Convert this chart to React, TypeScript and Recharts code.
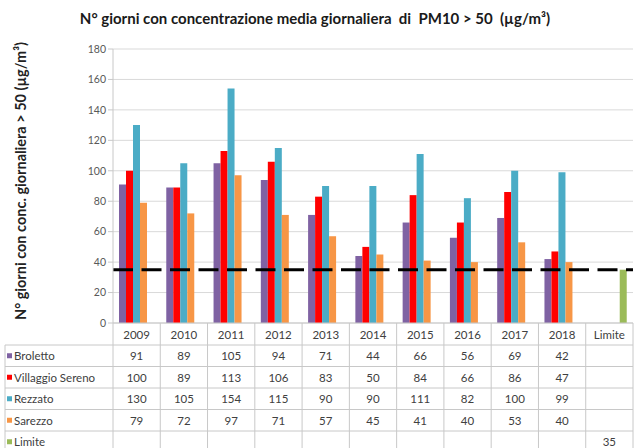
import { Bar, BarChart, CartesianGrid, ReferenceLine, XAxis, YAxis } from "recharts";

const years = ["2009", "2010", "2011", "2012", "2013", "2014", "2015", "2016", "2017", "2018", "Limite"];
const broletto = [91, 89, 105, 94, 71, 44, 66, 56, 69, 42, null];
const villaggioSereno = [100, 89, 113, 106, 83, 50, 84, 66, 86, 47, null];
const rezzato = [130, 105, 154, 115, 90, 90, 111, 82, 100, 99, null];
const sarezzo = [79, 72, 97, 71, 57, 45, 41, 40, 53, 40, null];
const limite = [null, null, null, null, null, null, null, null, null, null, 35];
const yTicks = [0, 20, 40, 60, 80, 100, 120, 140, 160, 180];
const limitValue = 35;

const series = [
  { key: "broletto", name: "Broletto", values: broletto, color: "#7f62a3" },
  { key: "villaggio", name: "Villaggio Sereno", values: villaggioSereno, color: "#ff0000" },
  { key: "rezzato", name: "Rezzato", values: rezzato, color: "#4bacc6" },
  { key: "sarezzo", name: "Sarezzo", values: sarezzo, color: "#f79646" },
  { key: "limite", name: "Limite", values: limite, color: "#9bbb59" },
];

const data = years.map((year, i) => {
  const row: Record<string, string | number | null> = { year };
  series.forEach((s) => (row[s.key] = s.values[i]));
  return row;
});

const W = 636;
const H = 448;
const TOP = 49;
const BOTTOM = 323;
const LEFT = 113;
const RIGHT = 3;
const BW = (W - LEFT - RIGHT) / years.length;
const HEADER_BOTTOM = 345;
const ROW_H = 21.5;
const TABLE_LEFT = 5;
const FONT = "Lato, 'Open Sans', sans-serif";
const GRID = "#c8c8c8";
const TEXT = "#404040";

function TableColumn(props: any) {
  const { x, payload, index } = props;
  const i = index ?? years.indexOf(payload.value);
  const left = x - BW / 2;
  const right = x + BW / 2;
  const tableBottom = HEADER_BOTTOM + ROW_H * series.length;

  return (
    <g fontFamily={FONT} fontSize={11.5} fill={TEXT}>
      {i === 0 && (
        <g>
          {series.map((s, r) => (
            <line key={"h" + r} x1={TABLE_LEFT} x2={W - RIGHT} y1={HEADER_BOTTOM + r * ROW_H} y2={HEADER_BOTTOM + r * ROW_H} stroke={GRID} />
          ))}
          <line x1={TABLE_LEFT} x2={W - RIGHT} y1={tableBottom} y2={tableBottom} stroke={GRID} />
          <line x1={TABLE_LEFT} x2={TABLE_LEFT} y1={HEADER_BOTTOM} y2={tableBottom} stroke={GRID} />
          <line x1={left} x2={left} y1={BOTTOM} y2={tableBottom} stroke={GRID} />
          {series.map((s, r) => {
            const cy = HEADER_BOTTOM + r * ROW_H + ROW_H / 2;
            return (
              <g key={"l" + r}>
                <rect x={7} y={cy - 2.5} width={5} height={5} fill={s.color} />
                <text x={14} y={cy} dominantBaseline="central" fill={TEXT}>
                  {s.name}
                </text>
              </g>
            );
          })}
        </g>
      )}
      <line x1={right} x2={right} y1={BOTTOM} y2={tableBottom} stroke={GRID} />
      <text x={x} y={(BOTTOM + HEADER_BOTTOM) / 2} textAnchor="middle" dominantBaseline="central" fill={TEXT}>
        {payload.value}
      </text>
      {series.map((s, r) => {
        const v = s.values[i];
        if (v == null) return null;
        return (
          <text
            key={s.key}
            x={x}
            y={HEADER_BOTTOM + r * ROW_H + ROW_H / 2}
            textAnchor="middle"
            dominantBaseline="central"
            fill={TEXT}
          >
            {v}
          </text>
        );
      })}
    </g>
  );
}

function YLabel() {
  return (
    <text
      x={20}
      y={181}
      transform="rotate(-90 20 181)"
      textAnchor="middle"
      dominantBaseline="central"
      fontFamily={FONT}
      fontSize={14.5}
      fontWeight="bold"
      fill="#222"
    >
      N° giorni con conc. giornaliera {">"} 50  (µg/m³)
    </text>
  );
}

export default function App() {
  return (
    <div style={{ position: "absolute", left: 0, top: 0, width: W, height: H, background: "#fff", overflow: "hidden" }}>
      <div
        style={{
          position: "absolute",
          left: 0,
          top: 9,
          width: 630,
          textAlign: "center",
          fontFamily: FONT,
          fontSize: 15,
          fontWeight: "bold",
          color: "#1a1a1a",
          whiteSpace: "pre",
        }}
      >
        N° giorni con concentrazione media giornaliera  di  PM10 {">"} 50  (µg/m³)
      </div>
      <BarChart
        width={W}
        height={H}
        data={data}
        margin={{ top: TOP, right: RIGHT, bottom: 0, left: 0 }}
        barCategoryGap={6}
        barGap={0}
      >
        <CartesianGrid vertical={false} stroke="#d9d9d9" />
        <XAxis
          dataKey="year"
          interval={0}
          height={H - BOTTOM}
          axisLine={{ stroke: GRID }}
          tickLine={false}
          tick={(p: any) => <TableColumn {...p} />}
        />
        <YAxis
          width={LEFT}
          domain={[0, 180]}
          ticks={yTicks}
          tick={{ fill: "#595959", fontSize: 10.5, fontFamily: FONT }}
          axisLine={{ stroke: GRID }}
          tickLine={{ stroke: GRID }}
          tickSize={5}
          label={<YLabel />}
        />
        {series.map((s) => (
          <Bar key={s.key} dataKey={s.key} name={s.name} fill={s.color} isAnimationActive={false} />
        ))}
        <ReferenceLine y={limitValue} stroke="#000" strokeWidth={3} strokeDasharray="20 8.5" />
      </BarChart>
    </div>
  );
}
